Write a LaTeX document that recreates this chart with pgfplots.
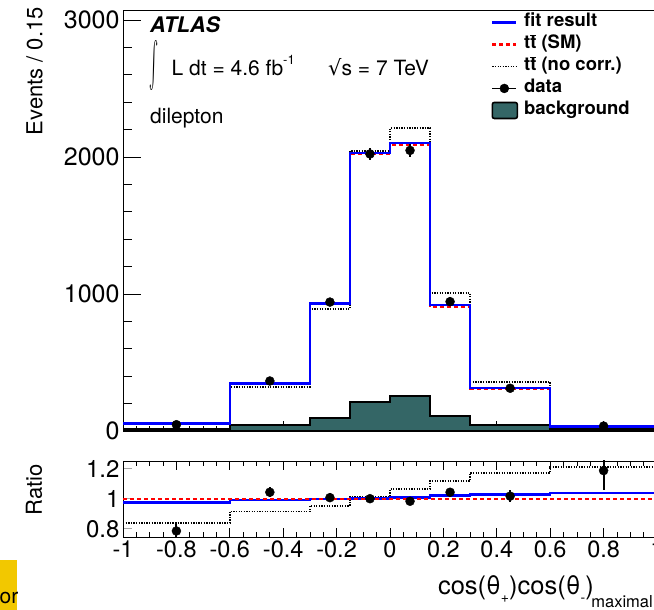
\documentclass[border=0pt]{standalone}
\usepackage{pgfplots}
\pgfplotsset{compat=1.18}
\usepackage{fontspec}
\usepackage{graphicx}
\setmainfont{TeX Gyre Heros}
\newfontfamily\dejavu{DejaVu Sans}
\definecolor{bgcol}{RGB}{52,102,102}
\definecolor{ybox}{RGB}{242,200,0}
\newcommand\fs[1]{\fontsize{#1}{#1}\selectfont}
\newcommand\tbar{t$\overline{\mbox{t}}$}
\newcommand\sub[1]{\raisebox{-0.3em}{\fs{14}#1}}

\begin{document}
\begin{tikzpicture}
% ---------------- main panel (x ticks, frame, plots)
\begin{axis}[
  at={(123pt,179pt)}, anchor=south west, scale only axis,
  width=534pt, height=421pt,
  xmin=-1, xmax=1, ymin=0, ymax=3073,
  xtick={-1,-0.8,-0.6,-0.4,-0.2,0,0.2,0.4,0.6,0.8,1}, xticklabels={},
  minor x tick num=3, xtick pos=bottom,
  ytick=\empty,
  major tick length=10pt, minor tick length=5pt,
  tick style={black, line width=0.8pt},
  axis line style={black, line width=0.9pt},
  legend image code/.code={\draw[#1] (0pt,0pt) -- (24pt,0pt);},
  legend style={at={(0.689,0.997)}, anchor=north west, draw=none, fill=none,
    inner sep=0pt, font=\bfseries\fs{18.5}, row sep=0pt,
    nodes={text height=13pt, text depth=4pt, inner ysep=2.5pt, inner xsep=6pt}},
  legend cell align=left,
]
\addlegendimage{blue, line width=2.4pt}
\addlegendimage{red, line width=2.2pt, dash pattern=on 4pt off 3pt}
\addlegendimage{black, line width=1.6pt, dash pattern=on 1.3pt off 1.3pt}
\addlegendimage{legend image code/.code={\draw[black,line width=1.8pt] (0pt,0pt)--(24pt,0pt); \fill[black] (12pt,0pt) circle (4.5pt);}}
\addlegendimage{legend image code/.code={\draw[fill=bgcol,draw=black,line width=1.6pt,rounded corners=2pt] (0pt,-8pt) rectangle (25pt,8pt);}}
\legend{fit result, \tbar{} (SM), \tbar{} (no corr.), data, background}

% background
\addplot[forget plot, const plot mark left, fill=bgcol, draw=black, line width=2pt]
  coordinates {(-1,12)(-0.6,41)(-0.3,97)(-0.15,213)(0,252)(0.15,109)(0.3,42)(0.6,12)(1,12)} \closedcycle;
% ttbar no corr
\addplot[forget plot, const plot mark left, black, line width=1.6pt, dash pattern=on 1.3pt off 1.3pt]
  coordinates {(-1,48)(-0.6,321)(-0.3,891)(-0.15,2045)(0,2210)(0.15,1008)(0.3,358)(0.6,36)(1,36)};
% ttbar SM
\addplot[forget plot, const plot mark left, red, line width=2.2pt, dash pattern=on 4pt off 3pt]
  coordinates {(-1,60)(-0.6,350)(-0.3,935)(-0.15,2025)(0,2085)(0.15,903)(0.3,305)(0.6,30)(1,30)};
% fit result
\addplot[forget plot, const plot mark left, blue, line width=2.4pt]
  coordinates {(-1,56)(-0.6,346)(-0.3,930)(-0.15,2030)(0,2104)(0.15,921)(0.3,314)(0.6,32)(1,32)};
% data
\addplot[forget plot, only marks, mark=*, mark size=4.5pt, black,
  error bars/.cd, y dir=both, y explicit, error mark=none,
  error bar style={line width=2pt, black}]
  coordinates {(-0.8,46) +- (0,7) (-0.45,365) +- (0,19) (-0.225,941) +- (0,31)
    (-0.075,2022) +- (0,45) (0.075,2048) +- (0,45) (0.225,944) +- (0,31)
    (0.45,312) +- (0,18) (0.8,36) +- (0,6)};
\end{axis}
% ---------------- main panel y ticks overlay
\begin{axis}[
  at={(123pt,179pt)}, anchor=south west, scale only axis,
  width=534pt, height=421pt,
  xmin=-1, xmax=1, ymin=0, ymax=3073,
  xtick=\empty, ytick={0,1000,2000,3000}, yticklabels={0,1000,2000,3000},
  minor y tick num=4, ytick pos=left,
  major tick length=18pt, minor tick length=9pt,
  tick style={black, line width=0.8pt},
  axis line style={draw=none},
  yticklabel style={font=\fs{25}},
]
\end{axis}
% ---------------- ratio panel
\begin{axis}[
  at={(123pt,73pt)}, anchor=south west, scale only axis,
  width=534pt, height=76pt,
  xmin=-1, xmax=1, ymin=0.745, ymax=1.251,
  xtick={-1,-0.8,-0.6,-0.4,-0.2,0,0.2,0.4,0.6,0.8,1},
  xticklabels={-1,-0.8,-0.6,-0.4,-0.2,0,0.2,0.4,0.6,0.8,1},
  minor x tick num=3,
  ytick={0.8,1,1.2}, yticklabels={0.8,1,1.2}, ytick pos=left,
  y tick style={gray!70, line width=1.2pt},
  x tick style={black, line width=0.8pt},
  major tick length=9pt, minor tick length=5pt,
  axis line style={black, line width=0.9pt},
  xticklabel style={font=\fs{23.5}},
  yticklabel style={font=\fs{24}},
]
\addplot[const plot mark left, black, line width=1.6pt, dash pattern=on 1.3pt off 1.3pt]
  coordinates {(-1,0.837)(-0.6,0.916)(-0.3,0.953)(-0.15,1.011)(0,1.064)(0.15,1.117)(0.3,1.173)(0.6,1.213)(1,1.213)};
\addplot[const plot mark left, blue, line width=2.4pt]
  coordinates {(-1,0.975)(-0.6,0.99)(-0.3,0.996)(-0.15,1.002)(0,1.009)(0.15,1.02)(0.3,1.028)(0.6,1.037)(1,1.037)};
\addplot[red, line width=2.2pt, dash pattern=on 4pt off 3pt]
  coordinates {(-1,1)(1,1)};
\addplot[only marks, mark=*, mark size=4.5pt, black,
  error bars/.cd, y dir=both, y explicit, error mark=none,
  error bar style={line width=2pt, black}]
  coordinates {(-0.8,0.785) +- (0,0.06) (-0.45,1.043) +- (0,0.035) (-0.225,1.007) +- (0,0.03)
    (-0.075,1.0) +- (0,0.02) (0.075,0.983) +- (0,0.02) (0.225,1.043) +- (0,0.03)
    (0.45,1.017) +- (0,0.04) (0.8,1.187) +- (0,0.13)};
\end{axis}
% ---------------- texts
\node[anchor=base west, font=\bfseries\itshape\fs{21.5}, inner sep=0pt] at (150pt,577pt) {ATLAS};
\node[anchor=south, inner sep=0pt] at (154pt,519pt) {\resizebox*{9pt}{50pt}{$\int$}};
\node[anchor=base west, font=\fs{21}, inner sep=0pt] at (171.5pt,534pt) {L dt = 4.6 fb\raisebox{0.55em}{\fs{13}-1}};
\node[anchor=base west, font=\fs{21}, inner sep=0pt] at (328pt,534pt) {{\dejavu √}s = 7 TeV};
\node[anchor=base west, font=\fs{21}, inner sep=0pt] at (150pt,486pt) {dilepton};
\node[anchor=east, rotate=90, font=\fs{22}, inner sep=0pt] at (34.5pt,603pt) {Events / 0.15};
\node[anchor=center, rotate=90, font=\fs{22}, inner sep=0pt] at (34pt,120pt) {Ratio};
\node[anchor=base east, font=\fs{25.5}, inner sep=0pt] at (594pt,15pt)
  {cos(θ\sub{+})cos(θ\sub{-})};
\node[anchor=base east, font=\fs{16.5}, inner sep=0pt] at (653pt,2pt) {maximal};
\begin{scope}
\clip (0pt,0pt) rectangle (17pt,50pt);
\fill[ybox] (0pt,0pt) rectangle (17pt,50pt);
\node[anchor=base west, font=\fs{21}, inner sep=0pt] at (-0.5pt,6pt) {or};
\end{scope}
\pgfresetboundingbox
\path[use as bounding box] (0pt,0pt) rectangle (654pt,610pt);
\end{tikzpicture}
\end{document}
